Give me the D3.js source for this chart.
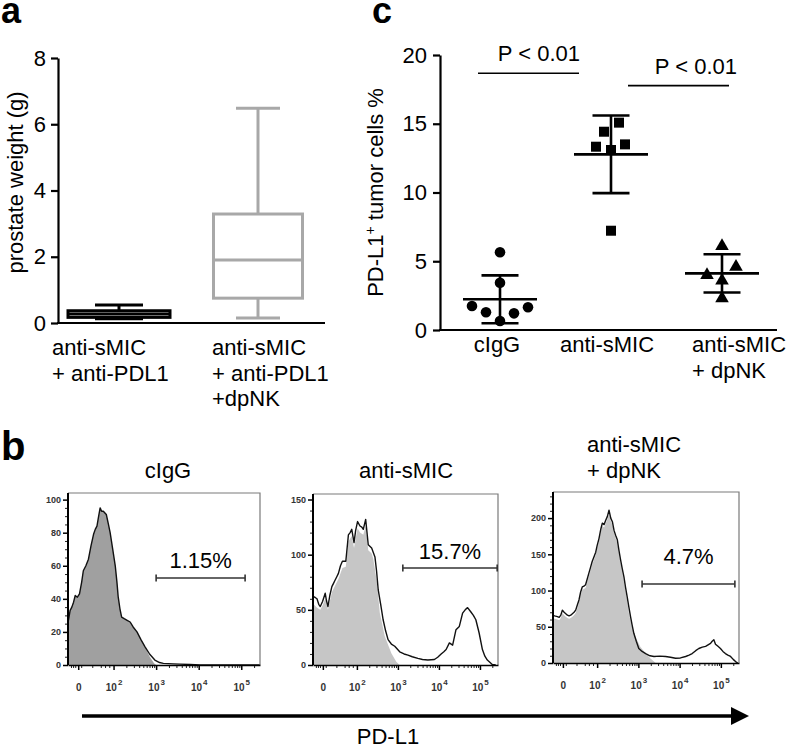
<!DOCTYPE html>
<html><head><meta charset="utf-8">
<script src="https://cdn.jsdelivr.net/npm/d3@7"></script>
<style>body{margin:0;background:#fff}svg{display:block;font-family:"Liberation Sans",Arial,Helvetica,sans-serif}</style>
</head><body><svg id="fig" width="787" height="749"></svg>
<script>
// ---------- DATA ----------
// panel a: box plot (prostate weight, g)
const boxCategories = [["anti-sMIC","+ anti-PDL1"],["anti-sMIC","+ anti-PDL1","+dpNK"]];
const boxMin    = [0.13, 0.15];
const boxQ1     = [0.17, 0.75];
const boxMedian = [0.27, 1.90];
const boxQ3     = [0.37, 3.29];
const boxMax    = [0.54, 6.48];
const weightTicks = [0, 2, 4, 6, 8];

// panel c: PD-L1+ tumor cells %
const scatterCategories = ["cIgG", "anti-sMIC", "anti-sMIC + dpNK"];
const cIgGValues     = [5.65, 3.44, 1.75, 1.29, 0.65, 1.21, 1.65];
const antiSMICValues = [14.42, 15.08, 13.33, 13.09, 13.5, 7.22];
const dpNKValues     = [6.1, 4.0, 4.6, 3.6, 2.3];
const percentTicks = [0, 5, 10, 15, 20];
const pLabels = ["P < 0.01", "P < 0.01"];
const pBarHeights = [18.67, 17.77];

// panel b: flow histograms (x in display decades, 0 shown at 1.17)
const flowTickValues = [1.17, 2, 3, 4, 5];
const flowTickBase = ["0", "10", "10", "10", "10"];
const flowTickExp  = ["", "2", "3", "4", "5"];
const histTitles = [["cIgG"], ["anti-sMIC"], ["anti-sMIC", "+ dpNK"]];
const histPercent = ["1.15%", "15.7%", "4.7%"];
const histGates = [[3.0, 5.09, 52.6], [3.12, 5.42, 87.9], [3.09, 5.34, 109]];
const histYTicks = [[0,20,40,60,80,100], [0,50,100,150], [0,50,100,150,200]];
const histYMax = [104, 155, 236];

const cIgGLine = [[0.94,27],[0.98,33],[1.02,35],[1.06,38],[1.10,42],[1.15,41],[1.20,43],[1.25,50],[1.29,57],[1.35,60],[1.41,64],[1.47,72],[1.53,79],[1.57,82],[1.61,84],[1.65,90],[1.685,95],[1.72,93],[1.76,93],[1.83,91],[1.88,85],[1.92,80],[1.98,70],[2.04,60],[2.08,50],[2.11,41],[2.15,34],[2.19,29],[2.25,28],[2.32,27],[2.39,26],[2.46,23],[2.55,20],[2.65,15],[2.74,11],[2.85,6.5],[2.97,3],[3.08,1.5],[3.17,1],[3.4,0.7],[3.56,0.5],[3.8,0.3],[4.03,0],[5.44,0]];
const cIgGFill = [[0.94,27],[0.98,33],[1.02,35],[1.06,38],[1.10,42],[1.15,41],[1.20,43],[1.25,50],[1.29,57],[1.35,60],[1.41,64],[1.47,72],[1.53,79],[1.57,82],[1.61,84],[1.65,90],[1.685,95],[1.72,93],[1.76,93],[1.83,91],[1.88,85],[1.92,80],[1.98,70],[2.04,60],[2.08,50],[2.11,41],[2.15,34],[2.19,29],[2.25,28],[2.32,27],[2.39,26],[2.46,23],[2.55,20],[2.65,15],[2.74,11],[2.85,5],[2.95,1],[3.0,0]];

const antiSMICLine = [[0.945,62],[0.99,61],[1.027,60],[1.07,55],[1.107,53],[1.163,57.5],[1.228,65],[1.26,58],[1.294,53],[1.34,63],[1.39,71],[1.43,74],[1.47,77],[1.51,80],[1.55,83],[1.60,90],[1.647,94],[1.73,94],[1.793,118],[1.835,120],[1.875,123],[1.93,111],[1.97,122],[2.016,130],[2.076,126],[2.12,125],[2.156,123],[2.214,132],[2.277,109],[2.36,106],[2.44,98],[2.48,85],[2.52,68],[2.58,55],[2.64,41],[2.70,31],[2.76,23],[2.84,19],[2.923,17],[3.044,12],[3.15,10],[3.245,9],[3.35,7.5],[3.487,6],[3.6,5],[3.73,4.5],[3.89,5],[3.97,7],[4.054,10],[4.12,12],[4.175,14],[4.255,20],[4.334,18],[4.416,32],[4.497,35],[4.577,47],[4.64,50],[4.698,52],[4.78,48],[4.84,45],[4.9,41],[4.98,29],[5.06,14],[5.12,8],[5.18,4.5],[5.3,0.5],[5.385,0]];
const antiSMICFill = [[0.945,55],[1.027,52],[1.107,50],[1.163,54],[1.228,60],[1.294,50],[1.39,66],[1.47,72],[1.55,78],[1.647,88],[1.73,89],[1.793,112],[1.875,117],[1.93,106],[2.016,124],[2.076,120],[2.156,118],[2.214,126],[2.277,104],[2.36,101],[2.4,96],[2.48,77],[2.56,47],[2.68,26],[2.84,10.6],[2.96,3],[3.04,0]];

const dpNKLine = [[0.915,66],[0.97,65],[1.036,64],[1.08,63],[1.119,66],[1.157,73],[1.2,70],[1.24,68],[1.28,66],[1.32,65],[1.36,66],[1.40,68],[1.44,70],[1.48,73],[1.52,80],[1.56,87],[1.60,98],[1.64,105],[1.68,106],[1.72,108],[1.76,116],[1.80,124],[1.84,132],[1.88,140],[1.92,146],[1.966,153],[2.0,162],[2.046,172],[2.09,185],[2.126,193],[2.17,191],[2.208,197],[2.247,202],[2.288,211],[2.33,200],[2.37,195],[2.41,183],[2.45,176],[2.49,170],[2.53,155],[2.57,142],[2.61,130],[2.65,119],[2.69,104],[2.73,91],[2.77,77],[2.81,64],[2.85,52],[2.89,41],[2.95,30],[3.01,20],[3.09,16],[3.177,13],[3.28,10],[3.38,9],[3.52,9.5],[3.66,9],[3.78,8],[3.9,6.5],[4.02,7],[4.145,9],[4.23,11],[4.305,13],[4.39,17],[4.466,20],[4.55,22],[4.63,23],[4.69,25],[4.75,27],[4.79,30],[4.83,32],[4.87,26],[4.93,23],[4.99,20],[5.05,16],[5.11,13],[5.17,11],[5.235,9],[5.3,5],[5.356,2],[5.41,0]];
const dpNKFill = [[0.915,62],[0.97,61],[1.036,60],[1.08,59],[1.119,62],[1.157,69],[1.2,66],[1.24,64],[1.28,62],[1.32,61],[1.36,62],[1.40,64],[1.44,66],[1.48,69],[1.52,76],[1.56,83],[1.60,94],[1.64,101],[1.68,102],[1.72,104],[1.76,112],[1.80,120],[1.84,128],[1.88,136],[1.92,142],[1.966,149],[2.0,158],[2.046,168],[2.09,181],[2.126,189],[2.17,187],[2.208,193],[2.247,198],[2.288,206],[2.33,196],[2.37,191],[2.41,179],[2.45,172],[2.49,165],[2.53,150],[2.57,137],[2.61,125],[2.65,112],[2.73,85],[2.77,69],[2.85,48],[2.93,36],[3.05,22],[3.18,13],[3.3,6],[3.42,0]];

const histLines = [cIgGLine, antiSMICLine, dpNKLine];
const histFills = [cIgGFill, antiSMICFill, dpNKFill];

// ---------- LAYOUT / STYLE ----------
const FONT = 22;
const svg = d3.select("#fig");

function panelLetter(t, x, y, size){
  svg.append("text").attr("x", x).attr("y", y).attr("font-size", size)
    .attr("font-weight", "bold").text(t);
}
panelLetter("a", 1, 23, 36);
panelLetter("c", 372, 23, 36);
panelLetter("b", 1, 460, 40);

// ===== Panel a =====
(function(){
  const g = svg.append("g");
  const y = d3.scaleLinear().domain([0, 8]).range([323, 58]);
  const x = d3.scalePoint().domain([0, 1]).range([119, 258]);
  const boxW = [102, 89], capW = [48, 44];
  const colors = ["#000", "#a8a8a8"];
  const ax = g.append("g").attr("transform", "translate(58,0)")
    .call(d3.axisLeft(y).tickValues(weightTicks).tickSize(7).tickSizeOuter(0).tickPadding(5));
  ax.selectAll("path,line").attr("stroke", "#000").attr("stroke-width", 2.2);
  ax.selectAll("text").attr("font-size", FONT).attr("font-family", "Liberation Sans, Arial, sans-serif").attr("fill", "#000");
  g.append("line").attr("x1", 57).attr("x2", 325).attr("y1", y(0)).attr("y2", y(0))
    .attr("stroke", "#000").attr("stroke-width", 2.2);
  g.append("text").attr("transform", `translate(23,${(y(0)+y(8))/2 - 8}) rotate(-90)`)
    .attr("text-anchor", "middle").attr("font-size", FONT).text("prostate weight (g)");
  [0, 1].forEach(i => {
    const cx = x(i), c = colors[i], sw = 3;
    const b = g.append("g").attr("stroke", c).attr("stroke-width", sw).attr("fill", "none");
    b.append("line").attr("x1", cx).attr("x2", cx).attr("y1", y(boxMax[i])).attr("y2", y(boxQ3[i]));
    b.append("line").attr("x1", cx).attr("x2", cx).attr("y1", y(boxQ1[i])).attr("y2", y(boxMin[i]));
    b.append("line").attr("x1", cx - capW[i]/2).attr("x2", cx + capW[i]/2).attr("y1", y(boxMax[i])).attr("y2", y(boxMax[i]));
    b.append("line").attr("x1", cx - capW[i]/2).attr("x2", cx + capW[i]/2).attr("y1", y(boxMin[i])).attr("y2", y(boxMin[i]));
    b.append("rect").attr("x", cx - boxW[i]/2).attr("width", boxW[i])
      .attr("y", y(boxQ3[i])).attr("height", y(boxQ1[i]) - y(boxQ3[i]));
    b.append("line").attr("x1", cx - boxW[i]/2).attr("x2", cx + boxW[i]/2).attr("y1", y(boxMedian[i])).attr("y2", y(boxMedian[i]));
  });
  const labelX = [52, 212];
  boxCategories.forEach((lines, i) => {
    const t = g.append("text").attr("font-size", FONT);
    lines.forEach((l, j) => t.append("tspan").attr("x", labelX[i]).attr("y", 355 + j * 25.5).text(l));
  });
})();

// ===== Panel c =====
(function(){
  const g = svg.append("g");
  const y = d3.scaleLinear().domain([0, 20]).range([330, 55]);
  const x = d3.scalePoint().domain(scatterCategories).range([500, 722]);
  const ax = g.append("g").attr("transform", "translate(440,0)")
    .call(d3.axisLeft(y).tickValues(percentTicks).tickSize(7).tickSizeOuter(0).tickPadding(6));
  ax.selectAll("path,line").attr("stroke", "#000").attr("stroke-width", 2.2);
  ax.selectAll("text").attr("font-size", FONT).attr("font-family", "Liberation Sans, Arial, sans-serif").attr("fill", "#000");
  g.append("line").attr("x1", 439).attr("x2", 777).attr("y1", y(0)).attr("y2", y(0))
    .attr("stroke", "#000").attr("stroke-width", 2.2);
  const yl = g.append("text").attr("transform", `translate(383,${(y(0)+y(20))/2}) rotate(-90)`)
    .attr("text-anchor", "middle").attr("font-size", FONT);
  yl.append("tspan").text("PD-L1");
  yl.append("tspan").attr("font-size", 14).attr("dy", -8).text("+");
  yl.append("tspan").attr("dy", 8).text(" tumor cells %");

  const groups = [
    {vals: cIgGValues, jitter: [0, 0, -28, -14, 0, 14, 28], sym: d3.symbolCircle, size: 88},
    {vals: antiSMICValues, jitter: [-7, 8, -15, 0, 14, 0], sym: d3.symbolSquare, size: 100},
    {vals: dpNKValues, jitter: [0, -15, 14, 0, 0], sym: d3.symbolTriangle, size: 80}
  ];
  groups.forEach((gr, i) => {
    const cx = x(scatterCategories[i]);
    const m = d3.mean(gr.vals), sd = d3.deviation(gr.vals);
    g.selectAll(null).data(gr.vals).join("path")
      .attr("d", d3.symbol().type(gr.sym).size(gr.size))
      .attr("transform", (d, k) => `translate(${cx + gr.jitter[k]},${y(d)})`)
      .attr("fill", "#000");
    const e = g.append("g").attr("stroke", "#000").attr("stroke-width", 2.6);
    e.append("line").attr("x1", cx - 37).attr("x2", cx + 37).attr("y1", y(m)).attr("y2", y(m));
    e.append("line").attr("x1", cx - 18.5).attr("x2", cx + 18.5).attr("y1", y(m + sd)).attr("y2", y(m + sd));
    e.append("line").attr("x1", cx - 18.5).attr("x2", cx + 18.5).attr("y1", y(m - sd)).attr("y2", y(m - sd));
    e.append("line").attr("x1", cx).attr("x2", cx).attr("y1", y(m + sd)).attr("y2", y(m - sd));
  });
  // category labels
  g.append("text").attr("x", x(scatterCategories[0]) - 3).attr("y", 352).attr("text-anchor", "middle").attr("font-size", FONT).text("cIgG");
  g.append("text").attr("x", x(scatterCategories[1]) - 4).attr("y", 352).attr("text-anchor", "middle").attr("font-size", FONT).text("anti-sMIC");
  const t3 = g.append("text").attr("font-size", FONT);
  t3.append("tspan").attr("x", x(scatterCategories[2]) - 30).attr("y", 352).text("anti-sMIC");
  t3.append("tspan").attr("x", x(scatterCategories[2]) - 30).attr("y", 378).text("+ dpNK");
  // significance bars
  const pairs = [[0, 1, -22, -32, 1], [1, 2, 17, 7, 8]];
  pairs.forEach((p, i) => {
    const x1 = x(scatterCategories[p[0]]) + p[2], x2 = x(scatterCategories[p[1]]) + p[3];
    g.append("line").attr("x1", x1).attr("x2", x2).attr("y1", y(pBarHeights[i])).attr("y2", y(pBarHeights[i]))
      .attr("stroke", "#000").attr("stroke-width", 1.6);
    g.append("text").attr("x", x2 + p[4]).attr("y", y(pBarHeights[i]) - 12).attr("text-anchor", "end")
      .attr("font-size", FONT).text(pLabels[i]);
  });
})();

// ===== Panel b =====
const histFrames = [
  {left: 68, right: 260, top: 493, bottom: 665, fill: "#a0a0a0", textGap: 10, title: {x: 168, y: 478, anchor: "middle"}},
  {left: 313, right: 498, top: 494, bottom: 665, fill: "#c6c6c6", textGap: 9, title: {x: 406, y: 478, anchor: "middle"}},
  {left: 553, right: 739, top: 492, bottom: 663, fill: "#c6c6c6", textGap: 20, title: {x: 587, y: 452, anchor: "start"}}
];
const minorX = [1.0, 1.05, 1.1, 1.24, 1.5, 1.7, 1.8, 1.9];
[2, 3, 4].forEach(d => [2,3,4,5,6,7,8,9].forEach(k => minorX.push(d + Math.log10(k))));
minorX.push(5 + Math.log10(2));

histFrames.forEach((f, i) => {
  const g = svg.append("g");
  const x = d3.scaleLinear().domain([0.93, 5.44]).range([f.left, f.right]);
  const y = d3.scaleLinear().domain([0, histYMax[i]]).range([f.bottom, f.top]);
  // fill + line
  g.append("path").datum(histFills[i])
    .attr("d", d3.area().x(d => x(d[0])).y0(y(0)).y1(d => y(d[1])))
    .attr("fill", f.fill);
  g.append("path").datum(histLines[i])
    .attr("d", d3.line().x(d => x(d[0])).y(d => y(d[1])))
    .attr("fill", "none").attr("stroke", "#111").attr("stroke-width", 1.4).attr("stroke-linejoin", "round");
  // frame (top & right)
  g.append("path").attr("d", `M${f.left},${f.top}H${f.right}V${f.bottom}`)
    .attr("fill", "none").attr("stroke", "#7a7a7a").attr("stroke-width", 1.2);
  // y axis
  const step = histYTicks[i][1];
  const minorY = d3.range(0, histYMax[i] + 0.1, i === 0 ? 5 : 10).filter(v => v % step !== 0);
  const ay2 = g.append("g").attr("transform", `translate(${f.left},0)`)
    .call(d3.axisLeft(y).tickValues(minorY).tickSize(3).tickFormat(""));
  ay2.select(".domain").remove();
  ay2.selectAll("line").attr("stroke", "#222").attr("stroke-width", 1);
  const ay = g.append("g").attr("transform", `translate(${f.left},0)`)
    .call(d3.axisLeft(y).tickValues(histYTicks[i]).tickSize(5).tickSizeOuter(0).tickPadding(2));
  ay.select(".domain").attr("d", `M0,${f.top}V${f.bottom}`).attr("stroke", "#000").attr("stroke-width", 2);
  ay.selectAll("line").attr("stroke", "#000").attr("stroke-width", 1.5);
  ay.selectAll("text").attr("font-size", 9).attr("font-weight", "bold").attr("fill", "#333")
    .attr("font-family", "Liberation Sans, Arial, sans-serif");
  // x axis
  const ax2 = g.append("g").attr("transform", `translate(0,${f.bottom})`)
    .call(d3.axisBottom(x).tickValues(minorX).tickSize(3).tickFormat(""));
  ax2.select(".domain").remove();
  ax2.selectAll("line").attr("stroke", "#222").attr("stroke-width", 1);
  const ax = g.append("g").attr("transform", `translate(0,${f.bottom})`)
    .call(d3.axisBottom(x).tickValues(flowTickValues).tickSize(5).tickSizeOuter(0).tickPadding(10).tickFormat(""));
  ax.select(".domain").attr("stroke", "#000").attr("stroke-width", 1.6);
  ax.selectAll("line").attr("stroke", "#000").attr("stroke-width", 1.5);
  ax.selectAll(".tick text").each(function(d, k){
    const t = d3.select(this).attr("font-size", 10).attr("font-weight", "bold").attr("fill", "#333")
      .attr("font-family", "Liberation Sans, Arial, sans-serif").attr("dy", "1.1em");
    t.append("tspan").text(flowTickBase[k]);
    if (flowTickExp[k]) t.append("tspan").attr("font-size", 8).attr("dy", -6).attr("dx", 1).text(flowTickExp[k]);
  });
  // gate
  const [gs, ge, gh] = histGates[i];
  const gy = y(gh);
  const gg = g.append("g").attr("stroke", "#333").attr("stroke-width", 1.6);
  gg.append("line").attr("x1", x(gs)).attr("x2", x(ge)).attr("y1", gy).attr("y2", gy);
  gg.append("line").attr("x1", x(gs)).attr("x2", x(gs)).attr("y1", gy - 3.5).attr("y2", gy + 3.5);
  gg.append("line").attr("x1", x(ge)).attr("x2", x(ge)).attr("y1", gy - 3.5).attr("y2", gy + 3.5);
  g.append("text").attr("x", (x(gs) + x(ge)) / 2).attr("y", gy - f.textGap).attr("text-anchor", "middle")
    .attr("font-size", FONT).text(histPercent[i]);
  // title
  const tt = g.append("text").attr("font-size", FONT).attr("text-anchor", f.title.anchor);
  histTitles[i].forEach((l, j) => tt.append("tspan").attr("x", f.title.x).attr("y", f.title.y + j * 26).text(l));
});

// arrow + PD-L1 label
svg.append("line").attr("x1", 82).attr("x2", 734).attr("y1", 716).attr("y2", 716)
  .attr("stroke", "#000").attr("stroke-width", 3.5);
svg.append("path").attr("d", "M731,707L749,716L731,725Z").attr("fill", "#000");
svg.append("text").attr("x", 388).attr("y", 744).attr("text-anchor", "middle").attr("font-size", FONT).text("PD-L1");
</script>
</body></html>
